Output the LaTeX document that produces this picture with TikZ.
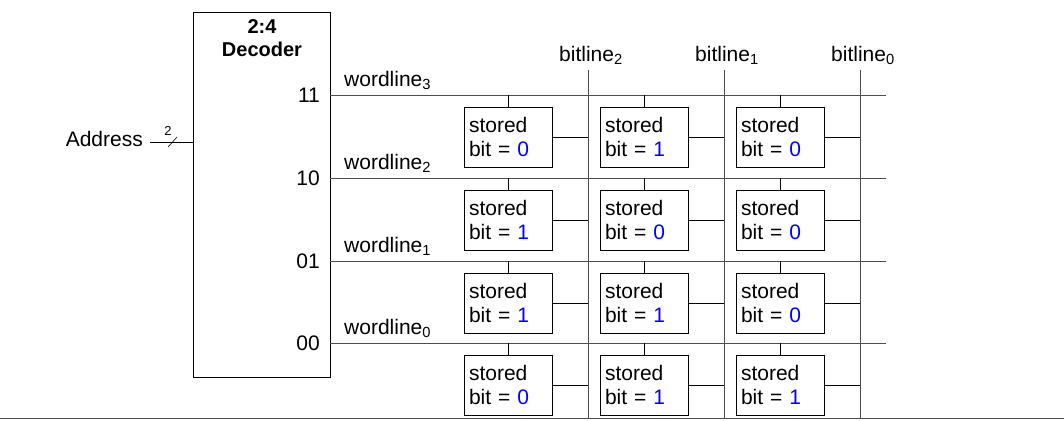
\documentclass[tikz,border=0pt]{standalone}
\usepackage{fontspec}
\setmainfont{Liberation Sans}
\begin{document}
\begin{tikzpicture}[x=1pt,y=-1pt,
  every node/.style={font=\fontsize{21}{24}\selectfont, inner sep=0pt},
  wire/.style={line width=0.8pt, black!70},
  cell/.style={draw, line width=0.8pt, minimum width=88pt, minimum height=60pt, align=left, text width=78pt, inner sep=5pt}]
\useasboundingbox (0,0) rectangle (1064,420);
\node[draw, line width=0.8pt, minimum width=137pt, minimum height=365pt, anchor=north west] (dec) at (193,12) {};
\node[font=\fontsize{20}{23}\selectfont\bfseries, align=center, anchor=north] (dtitle) at (262,19) {2:4\\Decoder};
\node[anchor=east] (addr) at (143,139) {Address};
\coordinate (ain) at (150,142);
\draw[line width=0.8pt] (ain) -- (dec.west |- ain);
\draw[line width=0.6pt] (168,147) -- (177,137);
\node[font=\fontsize{13}{15}\selectfont] (two) at (168,131) {2};
\draw[line width=1pt, black!70] (0,418) -- (1064,418);
\foreach \y/\code/\w in {95/11/3, 178/10/2, 261/01/1, 343/00/0} {
  \node[anchor=east] (c\w) at (320,\y) {\code};
  \node[anchor=south west] (wl\w) at (344,\y-5) {wordline\textsubscript{\w}};
  \coordinate (ws\w) at (330,\y);
  \coordinate (we\w) at (886,\y);
  \draw[wire] (ws\w) -- (we\w);
}
\foreach \x/\b in {588/2, 724/1, 860/0} {
  \node[anchor=south] (bl\b) at (\x+3,65) {bitline\textsubscript{\b}};
  \coordinate (bt\b) at (\x,70);
  \coordinate (bb\b) at (\x,418);
  \draw[wire] (bt\b) -- (bb\b);
}
\foreach \r/\y/\ba/\bb/\bc in {3/95/0/1/0, 2/178/1/0/0, 1/261/1/1/0, 0/343/0/1/1} {
  \foreach \cx/\b/\v in {508/2/\ba, 644/1/\bb, 780/0/\bc} {
    \node[cell] (cell\r\b) at (\cx,\y+42) {stored\\bit = \textcolor{blue}{\v}};
    \draw[line width=0.8pt] (cell\r\b.north) -- (\cx,\y);
    \draw[line width=0.8pt] (cell\r\b.east) -- (\cx+80,\y+42);
  }
}
\end{tikzpicture}
\end{document}
